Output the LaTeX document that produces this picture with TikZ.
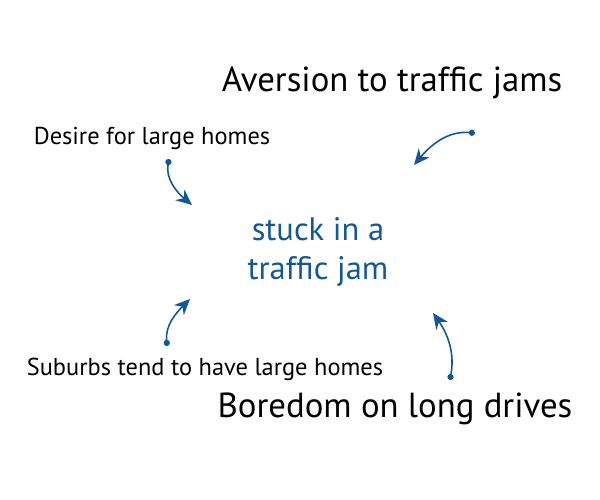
\documentclass[tikz,border=0pt]{standalone}
\usepackage{fontspec}
\setmainfont{PT Sans}
\usetikzlibrary{arrows.meta}
\definecolor{jamblue}{RGB}{18,88,150}

\begin{document}
\begin{tikzpicture}[
        x=0.02cm, y=-0.02cm,
        big/.style={font=\fontsize{19.8}{23}\selectfont},
        small/.style={font=\fontsize{13.9}{16}\selectfont},
        centre/.style={text=jamblue, align=center, font=\fontsize{18.5}{22.5}\selectfont},
        link/.style={draw=jamblue, line width=0.9pt, {Circle[length=3.5pt]}-{Stealth[length=9pt,width=8pt]}}
      ]
      \useasboundingbox (0,0) rectangle (600,500);
      \node[centre] (jam) at (318,252) {stuck in a\\traffic jam};
      \node[big] (aversion) at (392,83) {Aversion to traffic jams};
      \node[small] (desire) at (152,138) {Desire for large homes};
      \node[small] (suburbs) at (205,369) {Suburbs tend to have large homes};
      \node[big] (boredom) at (395,409) {Boredom on long drives};
      % arrow ends
      \coordinate (desire-from) at (169,159);
      \coordinate (desire-to) at (192,205);
      \coordinate (aversion-from) at (475,133);
      \coordinate (aversion-to) at (414,165);
      \coordinate (suburbs-from) at (167,346);
      \coordinate (suburbs-to) at (190,299);
      \coordinate (boredom-from) at (450,380);
      \coordinate (boredom-to) at (433,313);
      \draw[link] (desire-from) to[out=-100, in=140] (desire-to);
      \draw[link] (aversion-from) to[out=175, in=50] (aversion-to);
      \draw[link] (suburbs-from) to[out=95, in=-135] (suburbs-to);
      \draw[link] (boredom-from) to[out=80, in=-55] (boredom-to);
    \end{tikzpicture}
\end{document}
